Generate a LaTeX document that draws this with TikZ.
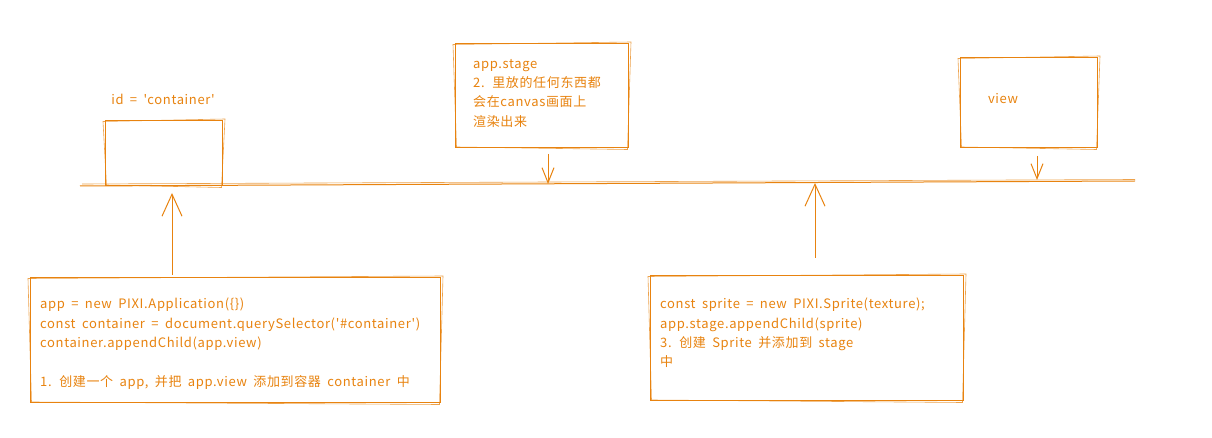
\documentclass[tikz,border=0pt]{standalone}
\usepackage{fontspec}
\newfontfamily\exfont{Noto Sans CJK SC}[LetterSpace=5,WordSpace=1.8]
\usetikzlibrary{arrows.meta,calc}
\definecolor{exor}{HTML}{E8830F}
\newcommand\skbox[1]{%
  \draw[sk2] ($(#1.north west)+(-2,1.5)$) -- ($(#1.north east)+(2,-1)$)
    -- ($(#1.south east)+(-1.5,1.5)$) -- ($(#1.south west)+(1.5,-1)$) -- cycle;}
\begin{document}
\begin{tikzpicture}[x=1pt,y=-1pt,
  sk/.style={draw=exor, line width=1pt},
  sk2/.style={draw=exor, line width=0.6pt, opacity=0.75},
  panel/.style={sk, rectangle, anchor=north west, inner sep=0pt},
  txt/.style={text=exor, font=\exfont\fontsize{13pt}{19.3pt}\selectfont, inner sep=0pt},
  code/.style={txt, align=left, anchor=north west},
  arrbig/.style={draw=exor, line width=1pt, -{Straight Barb[length=22pt,width=20pt]}},
  arrsmall/.style={draw=exor, line width=1pt, -{Straight Barb[length=15pt,width=12pt]}}
]
\fill[white] (0,0) rectangle (1212,438);
\useasboundingbox (0,0) rectangle (1212,438);

% main line
\coordinate (L1) at (80,186);
\coordinate (L2) at (1135,181);
\draw[sk] (L1) -- (L2);
\draw[sk2] ($(L1)+(2,-2)$) -- ($(L2)+(0,-1.5)$);

% boxes
\node[panel, minimum width=117pt, minimum height=65pt] (cont) at (105,120) {};
\skbox{cont}
\node[txt] (idlbl) at (163,99) {id = 'container'};

\node[panel, minimum width=173pt, minimum height=104pt] (stage) at (455,43) {};
\skbox{stage}
\node[code] (stagetxt) at (473,59) {app.stage\\2. 里放的任何东西都\\会在canvas画面上\\渲染出来};

\node[panel, minimum width=137pt, minimum height=90pt] (view) at (960,57) {};
\skbox{view}
\node[txt] (viewlbl) at (1003,99) {view};

\node[panel, minimum width=410pt, minimum height=125pt] (b1) at (30,277) {};
\skbox{b1}
\node[code] (b1txt) at (40,298) {app = new PIXI.Application(\{\})\\
const container = document.querySelector('\#container')\\
container.appendChild(app.view)\\[19.3pt]
1. 创建一个 app, 并把 app.view 添加到容器 container 中};

\node[panel, minimum width=313pt, minimum height=125pt] (b3) at (650,275) {};
\skbox{b3}
\node[code] (b3txt) at (660,298) {const sprite = new PIXI.Sprite(texture);\\
app.stage.appendChild(sprite)\\
3. 创建 Sprite 并添加到 stage\\
中};

% arrow targets on the line
\coordinate (t1) at (172,193);
\coordinate (t2) at (548,184);
\coordinate (t3) at (815,183);
\coordinate (t4) at (1037,180);
\coordinate (s3) at (815,258);

\draw[arrbig] ($(t1 |- b1.north)+(0,-2)$) -- (t1);
\draw[arrbig] (s3) -- (t3);
\draw[arrsmall] ($(t2 |- stage.south)+(0,6)$) -- (t2);
\draw[arrsmall] ($(t4 |- view.south)+(0,8)$) -- (t4);
\end{tikzpicture}
\end{document}
